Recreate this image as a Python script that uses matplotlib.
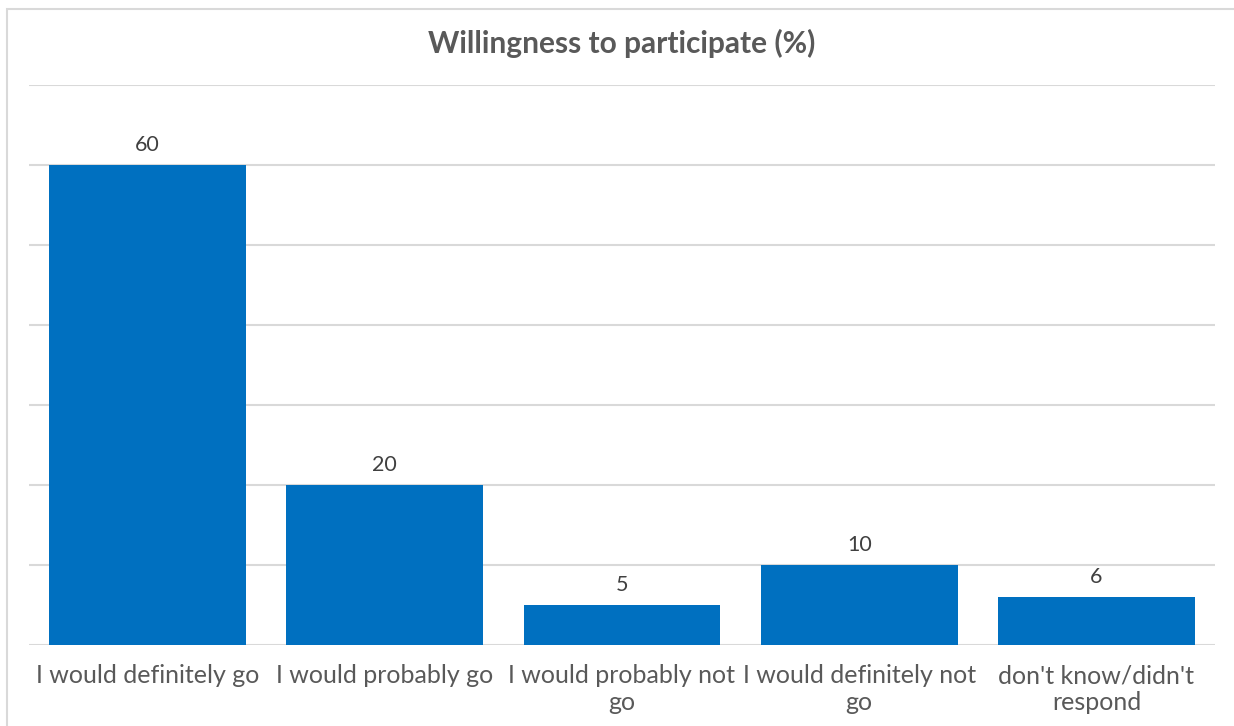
import matplotlib.pyplot as plt
from matplotlib.patches import Rectangle

# Survey answers and their share in percent
answers = ["I would definitely go", "I would probably go",
           "I would probably not\ngo", "I would definitely not\ngo",
           "don't know/didn't\nrespond"]
shares = [60, 20, 5, 10, 6]

BLUE = "#0070C0"
GREY_TEXT = "#595959"
GRID = "#D9D9D9"

plt.rcParams['font.family'] = ['Lato', 'DejaVu Sans']

fig = plt.figure(figsize=(12.34, 7.26), dpi=100)
ax = fig.add_axes([29 / 1234, 1 - 645 / 726, (1215 - 29) / 1234, (645 - 85) / 726])

xs = range(len(shares))
bars = ax.bar(xs, shares, width=0.83, color=BLUE, zorder=3)

for b, v in zip(bars, shares):
    ax.annotate(str(v), (b.get_x() + b.get_width() / 2, v),
                xytext=(0, 10), textcoords='offset pixels',
                ha='center', va='bottom', fontsize=15.5, color="#404040")

ax.set_xlim(-0.5, len(shares) - 0.5)
ax.set_ylim(0, 70)
ax.set_yticks(range(0, 71, 10))
ax.yaxis.grid(True, color=GRID, linewidth=1.5, zorder=0)
ax.set_yticklabels([])
ax.tick_params(axis='y', length=0)
ax.set_xticks(list(xs))
ax.set_xticklabels(answers, fontsize=18, color=GREY_TEXT, linespacing=1.2)
ax.tick_params(axis='x', length=0, pad=14)
for s in ax.spines.values():
    s.set_visible(False)

ax.set_title("Willingness to participate (%)", fontsize=21.5, fontweight='bold',
             color=GREY_TEXT, pad=23)

# outer chart frame, cut off on the right and bottom edges
fig.patches.append(Rectangle((7 / 1234, -0.05), 1.1, 1 - 9 / 726 + 0.05,
                             transform=fig.transFigure, fill=False,
                             edgecolor=GRID, linewidth=1.5))

fig.savefig("out.png", dpi=100)
